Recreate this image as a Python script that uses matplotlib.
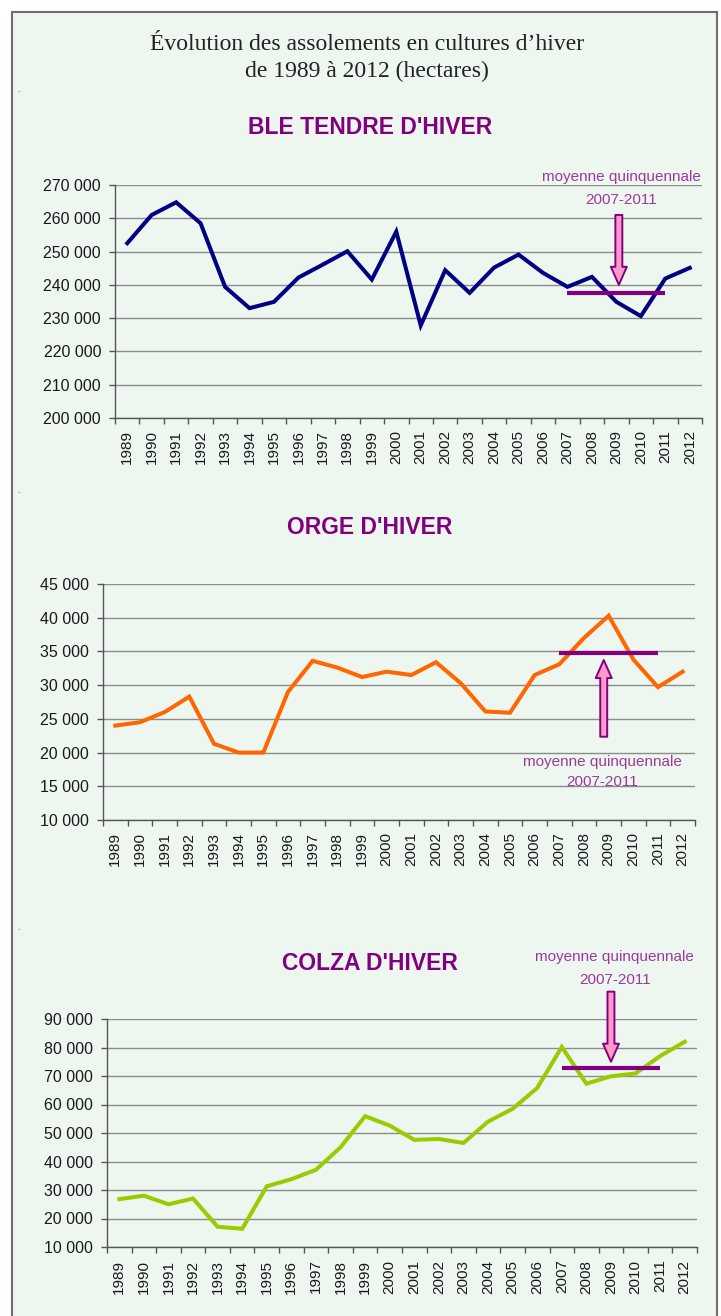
import numpy as np
import matplotlib
matplotlib.use("Agg")
import matplotlib.pyplot as plt
from matplotlib.patches import Rectangle

years = [str(y) for y in range(1989, 2013)]

ble = [252500, 261000, 264800, 258500, 239400, 233000, 234900, 242200, 246100,
       250100, 241600, 256000, 227800, 244400, 237600, 245200, 249100, 243600,
       239400, 242400, 234900, 230600, 241900, 245100]
orge = [24000, 24500, 26000, 28300, 21300, 20000, 20000, 29000, 33600, 32600,
        31200, 32000, 31500, 33400, 30300, 26100, 25900, 31500, 33100, 37000,
        40300, 33800, 29700, 32000]
colza = [26800, 28000, 25000, 27000, 17100, 16400, 31300, 33800, 37100, 45000,
         55900, 52600, 47600, 47900, 46500, 54000, 58500, 65800, 80200, 67300,
         69900, 70900, 77000, 82000]

avg_values = [237600, 34800, 72900]   # moyenne quinquennale 2007-2011
titles = ["BLE TENDRE D'HIVER", "ORGE D'HIVER", "COLZA D'HIVER"]
yticks_list = [list(range(200000, 270001, 10000)),
               list(range(10000, 45001, 5000)),
               list(range(10000, 90001, 10000))]
note_lines = ["moyenne quinquennale", "2007-2011"]
main_title = ["\u00c9volution des assolements en cultures d\u2019hiver",
              "de 1989 \u00e0 2012 (hectares)"]

series = [ble, orge, colza]
colors = ["#000080", "#FF6600", "#99CC00"]

W, H = 721, 1316
BG = "#EEF6F0"
PURPLE = "#800080"
NOTE = "#9C3A9C"
TICKFONT = ["Liberation Sans", "DejaVu Sans"]
NARROW = ["Liberation Sans Narrow", "Liberation Sans", "DejaVu Sans"]

fig = plt.figure(figsize=(W / 100, H / 100), dpi=100)
fig.patch.set_facecolor("white")

# frame
fig.add_artist(Rectangle((12 / W, -0.01), (717 - 12) / W, 1 - 12 / H + 0.01,
                         transform=fig.transFigure, facecolor=BG,
                         edgecolor="#6E6E6E", lw=1.5, zorder=-10))

def fy(y):
    return 1 - y / H

fig.text(367 / W, fy(50), main_title[0], ha="center", va="baseline",
         family=["Liberation Serif", "DejaVu Serif"], fontsize=17, color="#222222")
fig.text(367 / W, fy(77), main_title[1], ha="center", va="baseline",
         family=["Liberation Serif", "DejaVu Serif"], fontsize=17, color="#222222")

for (x0, y0) in [(18, 92), (18, 493), (18, 930)]:
    fig.text(x0 / W, fy(y0), ".", ha="center", va="baseline", fontsize=6, color="#333333")

# axes geometry (pixels): left, right, top, bottom
geoms = [(115, 702, 185, 418), (103, 695, 584, 820), (107, 697, 1019, 1247)]
title_y = [127, 528, 963]

# annotation placement (category index, value)
arrow_specs = [
    dict(x=20.1, tail=261000, tip=240000),
    dict(x=19.8, tail=22350, tip=33730),
    dict(x=20.0, tail=99600, tip=75000),
]
note_specs = [
    dict(x=20.2, y1=272500, y2=265500),
    dict(x=19.75, y1=18650, y2=15680),
    dict(x=20.15, y1=111900, y2=103700),
]

for i in range(3):
    l, r, t, b = geoms[i]
    ax = fig.add_axes([l / W, fy(b), (r - l) / W, (b - t) / H])
    ax.set_facecolor("none")
    x = np.arange(len(years))
    ax.plot(x, series[i], color=colors[i], lw=2.9, solid_joinstyle="miter", zorder=3)
    ax.plot([18, 22], [avg_values[i]] * 2, color=PURPLE, lw=3.0, zorder=4,
            solid_capstyle="butt")

    yt = yticks_list[i]
    ax.set_ylim(yt[0], yt[-1])
    ax.set_xlim(-0.5, len(years) - 0.5)
    ax.set_yticks(yt)
    ax.set_yticklabels([f"{v:,}".replace(",", " ") for v in yt],
                       family=TICKFONT, fontsize=11.5, color="#1a1a1a")
    ax.yaxis.grid(True, color="#8C8C8C", lw=1.0)
    ax.set_axisbelow(True)

    ax.set_xticks(np.arange(-0.5, len(years), 1.0))
    ax.set_xticklabels([])
    ax.set_xticks(x, minor=True)
    ax.set_xticklabels(years, minor=True, rotation=90, family=TICKFONT,
                       fontsize=11, color="#1a1a1a")
    ax.tick_params(axis="x", which="major", length=4, width=1, color="#555555")
    ax.tick_params(axis="x", which="minor", length=0, pad=9)
    ax.tick_params(axis="y", length=4, width=1, color="#555555", pad=6)
    for s in ["top", "right"]:
        ax.spines[s].set_visible(False)
    for s in ["left", "bottom"]:
        ax.spines[s].set_color("#555555")
        ax.spines[s].set_linewidth(1.0)

    fig.text(370 / W, fy(title_y[i]), titles[i], ha="center", va="center",
             family=TICKFONT, fontweight="bold", fontsize=16.5, color=PURPLE)

    a = arrow_specs[i]
    ax.annotate("", xy=(a["x"], a["tip"]), xytext=(a["x"], a["tail"]),
                arrowprops=dict(arrowstyle="simple,head_length=13,head_width=11.5,tail_width=5",
                                mutation_scale=1, fc="#FF99CC", ec=PURPLE, lw=1.4,
                                shrinkA=0, shrinkB=0),
                annotation_clip=False, zorder=6)
    n = note_specs[i]
    ax.text(n["x"], n["y1"], note_lines[0], ha="center", va="center", family=NARROW,
            fontsize=11, color=NOTE, clip_on=False)
    ax.text(n["x"], n["y2"], note_lines[1], ha="center", va="center", family=NARROW,
            fontsize=11, color=NOTE, clip_on=False)

fig.savefig("out.png", dpi=100, facecolor="white")
